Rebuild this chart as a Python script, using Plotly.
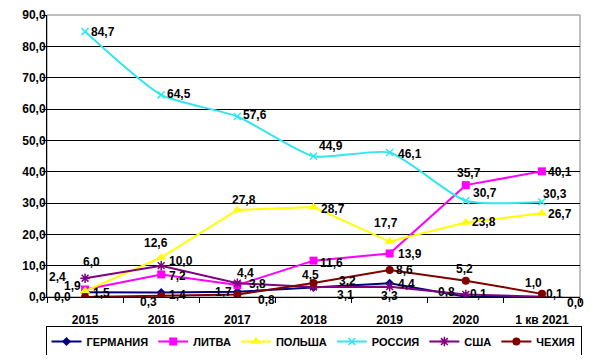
import plotly.graph_objects as go

categories = ["2015", "2016", "2017", "2018", "2019", "2020", "1 кв 2021"]
germany = [1.5, 1.4, 1.7, 3.1, 4.4, 0.1, 0.0]
lithuania = [2.4, 7.2, 3.8, 11.6, 13.9, 35.7, 40.1]
poland = [1.9, 12.6, 27.8, 28.7, 17.7, 23.8, 26.7]
russia = [84.7, 64.5, 57.6, 44.9, 46.1, 30.7, 30.3]
usa = [6.0, 10.0, 4.4, 3.2, 3.3, 0.8, 0.1]
czech = [0.0, 0.3, 0.8, 4.5, 8.6, 5.2, 1.0]
y_ticks = [0, 10, 20, 30, 40, 50, 60, 70, 80, 90]

FONT = "Arial, Liberation Sans, sans-serif"

series = [
    dict(name="ГЕРМАНИЯ", y=germany, color="#000080", symbol="diamond", size=7, shape="linear",
         labels=[("left", 7, 1), ("left", 7, 2), ("right", -4, 0), ("left", 22, 8),
                 ("left", 7, 1), ("left", 3, -3), ("left", 24, 6)]),
    dict(name="ЛИТВА", y=lithuania, color="#FF00FF", symbol="square", size=8, shape="linear",
         labels=[("right", -18, -12), ("left", 7, 2), ("left", 11, -1), ("left", 5, 2),
                 ("left", 7, 1), ("center", 3, -12), ("left", 5, 1)]),
    dict(name="ПОЛЬША", y=poland, color="#FFFF00", symbol="triangle-up", size=9, shape="linear",
         labels=[("right", -3, -5), ("center", -5, -15), ("center", 7, -10), ("left", 6, 2),
                 ("center", -4, -19), ("left", 5, 0), ("left", 5, 1)]),
    dict(name="РОССИЯ", y=russia, color="#33E6EE", symbol="x-thin-open", size=7, shape="spline",
         labels=[("left", 5, 0), ("left", 5, -1), ("left", 5, -2), ("left", 4, -10),
                 ("left", 7, 1), ("left", 6, -8), ("left", 0, -8)]),
    dict(name="США", y=usa, color="#800080", symbol="asterisk-open", size=8, shape="linear",
         labels=[("center", 6, -16), ("left", 7, -5), ("center", 8, -10), ("left", 24, -6),
                 ("center", 0, 9), ("right", -10, -2), ("left", 3, -3)]),
    dict(name="ЧЕХИЯ", y=czech, color="#800000", symbol="circle", size=8, shape="linear",
         labels=[("right", -13, 0), ("right", -3, 6), ("left", 20, 6), ("center", -3, -8),
                 ("left", 5, 0), ("center", -1, -12), ("center", -8, -11)]),
]

fig = go.Figure()
annotations = []
for s in series:
    open_sym = s["symbol"].endswith("open")
    fig.add_trace(go.Scatter(
        x=categories, y=s["y"], name=s["name"], mode="lines+markers",
        line=dict(color=s["color"], width=2, shape=s["shape"], smoothing=0.6),
        marker=dict(symbol=s["symbol"], size=s["size"], color=s["color"],
                    line=dict(color=s["color"], width=1.5 if open_sym else 0)),
    ))
    for i, (v, (anchor, dx, dy)) in enumerate(zip(s["y"], s["labels"])):
        annotations.append(dict(
            x=i, y=v, xref="x", yref="y", text=f"{v:.1f}".replace(".", ","),
            showarrow=False, xanchor=anchor, yanchor="middle",
            xshift=dx, yshift=-dy, borderpad=0,
            font=dict(family=FONT, size=12, color="black", weight="bold"),
        ))

# page body has an 8px margin: figure is sized to fit inside the window
fig.update_layout(
    width=577, height=347,
    margin=dict(l=39, r=5, t=7, b=58, autoexpand=False),
    paper_bgcolor="white", plot_bgcolor="white",
    separators=", ",
    font=dict(family=FONT, size=12, color="black"),
    showlegend=True,
    legend=dict(orientation="h", x=0.5, xanchor="center", y=-0.103, yanchor="top",
                bordercolor="black", borderwidth=1, bgcolor="white",
                font=dict(family=FONT, size=11, color="black", weight="bold"),
                itemwidth=30, tracegroupgap=0),
    annotations=annotations,
    shapes=[dict(type="rect", xref="paper", yref="paper", x0=0, x1=1, y0=0, y1=1,
                 line=dict(color="#808080", width=1), layer="below")],
)
fig.update_xaxes(
    type="category", range=[-0.5, 6.5], showgrid=False,
    showline=True, linecolor="black", linewidth=1,
    ticks="outside", tickson="boundaries", ticklen=5, tickcolor="black",
    tickfont=dict(family=FONT, size=12, color="black", weight="bold"),
    ticklabelstandoff=12,
)
fig.update_yaxes(
    range=[0, 90], tickvals=y_ticks, tickformat=".1f",
    showgrid=True, gridcolor="black", gridwidth=1,
    showline=True, linecolor="black", linewidth=1, zeroline=False,
    ticks="outside", ticklen=4, tickcolor="black",
    tickfont=dict(family=FONT, size=12, color="black", weight="bold"),
    ticklabelstandoff=-6,
)

fig.write_html("out.html")
